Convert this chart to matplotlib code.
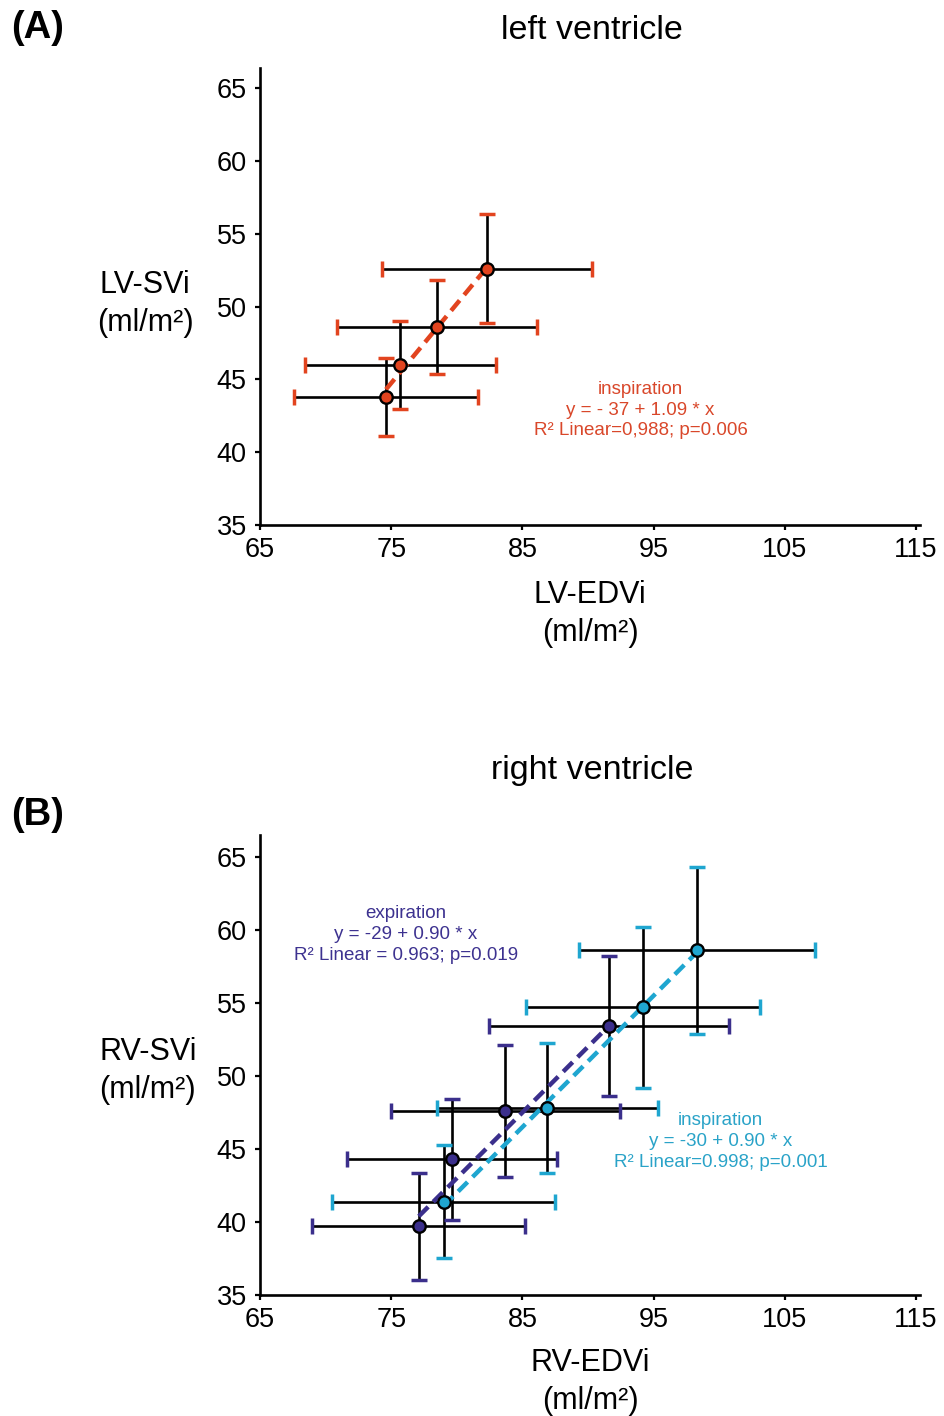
import matplotlib.pyplot as plt
import numpy as np

plt.rcParams['font.family'] = ['Liberation Sans', 'DejaVu Sans']

# panel A - left ventricle, inspiration
lv_edvi = [74.6, 75.7, 78.5, 82.3]
lv_edvi_err = [7.0, 7.3, 7.6, 8.0]
lv_svi = [43.8, 46.0, 48.6, 52.6]
lv_svi_err = [2.7, 3.0, 3.2, 3.75]
lv_fit = (-37, 1.09)

# panel B - right ventricle
rv_exp_edvi = [77.1, 79.6, 83.7, 91.6]
rv_exp_edvi_err = [8.1, 8.0, 8.7, 9.15]
rv_exp_svi = [39.7, 44.3, 47.6, 53.4]
rv_exp_svi_err = [3.65, 4.15, 4.5, 4.8]
rv_exp_fit = (-29, 0.90)

rv_insp_edvi = [79.0, 86.9, 94.2, 98.3]
rv_insp_edvi_err = [8.5, 8.4, 8.9, 9.0]
rv_insp_svi = [41.4, 47.8, 54.7, 58.6]
rv_insp_svi_err = [3.85, 4.45, 5.5, 5.7]
rv_insp_fit = (-30, 0.90)

red = "#e2441f"
purple = "#3b2f8c"
cyan = "#1fa6d0"

xticks = [65, 75, 85, 95, 105, 115]
yticks = [35, 40, 45, 50, 55, 60, 65]

fig = plt.figure(figsize=(9.44, 14.16), dpi=100)
axA = fig.add_axes([260 / 944, 1 - 525 / 1416, 660 / 944, 457 / 1416])
axB = fig.add_axes([260 / 944, 1 - 1295 / 1416, 660 / 944, 460 / 1416])


def series(ax, x, xe, y, ye, fit, color):
    ax.errorbar(x, y, xerr=xe, yerr=ye, fmt="none", ecolor="black",
                elinewidth=1.9, capsize=0, zorder=2)
    caps = ax.errorbar(x, y, xerr=xe, yerr=ye, fmt="none", ecolor=color,
                       capsize=5.8, capthick=2.5, zorder=3)
    for bl in caps[2]:
        bl.set_visible(False)
    xs = np.array([min(x), max(x)])
    ax.plot(xs, fit[0] + fit[1] * xs, color=color, lw=3.2,
            dashes=(3, 1.6), zorder=4)
    ax.plot(x, y, "o", ms=9, mfc=color, mec="black", mew=1.7, zorder=5)


def style(ax, top):
    ax.set_xlim(65, 115.3)
    ax.set_ylim(35, top)
    ax.set_xticks(xticks)
    ax.set_yticks(yticks)
    for s in ["top", "right"]:
        ax.spines[s].set_visible(False)
    for s in ["left", "bottom"]:
        ax.spines[s].set_linewidth(1.9)
    ax.tick_params(direction="out", length=3.5, width=1.6, labelsize=19.5)
    ax.tick_params(axis="x", pad=5)
    ax.tick_params(axis="y", pad=6)


series(axA, lv_edvi, lv_edvi_err, lv_svi, lv_svi_err, lv_fit, red)
style(axA, 66.4)
axA.set_xlabel("LV-EDVi\n(ml/m²)", fontsize=22, linespacing=1.35)
axA.xaxis.set_label_coords(0.5, -0.12)
axA.set_ylabel("LV-SVi\n(ml/m²)", fontsize=22, rotation=0, ha="center",
               va="center", linespacing=1.35)
axA.yaxis.set_label_coords(-0.174, 0.484)
axA.text(0.503, 1.083, "left ventricle", transform=axA.transAxes,
         ha="center", va="center", fontsize=24.5)
axA.text(94.0, 42.9, "inspiration\ny = - 37 + 1.09 * x\nR² Linear=0,988; p=0.006",
         color="#d9472a", fontsize=13.5, ha="center", va="center",
         multialignment="center", linespacing=1.3)

series(axB, rv_exp_edvi, rv_exp_edvi_err, rv_exp_svi, rv_exp_svi_err, rv_exp_fit, purple)
series(axB, rv_insp_edvi, rv_insp_edvi_err, rv_insp_svi, rv_insp_svi_err, rv_insp_fit, cyan)
style(axB, 66.5)
axB.set_xlabel("RV-EDVi\n(ml/m²)", fontsize=22, linespacing=1.35)
axB.xaxis.set_label_coords(0.5, -0.115)
axB.set_ylabel("RV-SVi\n(ml/m²)", fontsize=22, rotation=0, ha="center",
               va="center", linespacing=1.35)
axB.yaxis.set_label_coords(-0.17, 0.487)
axB.text(0.503, 1.141, "right ventricle", transform=axB.transAxes,
         ha="center", va="center", fontsize=24.5)
axB.text(76.1, 59.7, "expiration\ny = -29 + 0.90 * x\nR² Linear = 0.963; p=0.019",
         color="#3d3290", fontsize=13.5, ha="center", va="center",
         multialignment="center", linespacing=1.3)
axB.text(100.1, 45.5, "inspiration\ny = -30 + 0.90 * x\nR² Linear=0.998; p=0.001",
         color="#2aa3c8", fontsize=13.5, ha="center", va="center",
         multialignment="center", linespacing=1.3)

fig.text(38 / 944, 1 - 28 / 1416, "(A)", fontsize=27.5, fontweight="bold",
         ha="center", va="center")
fig.text(38 / 944, 1 - 815 / 1416, "(B)", fontsize=27.5, fontweight="bold",
         ha="center", va="center")

fig.savefig("out.png", dpi=100)
